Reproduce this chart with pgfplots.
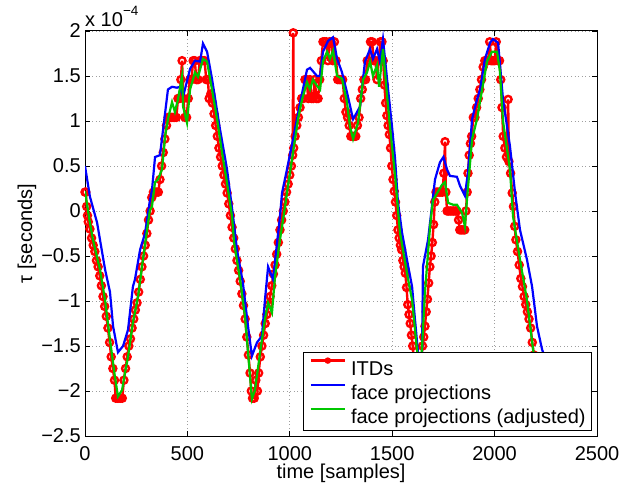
\documentclass[border=0pt]{standalone}
\usepackage{pgfplots}
\pgfplotsset{compat=1.18}
\usepackage{fontspec}
\setmainfont{Liberation Sans}
\definecolor{mred}{rgb}{1,0,0}
\definecolor{mblue}{rgb}{0,0,1}
\definecolor{mgreen}{rgb}{0,0.78,0}
\newcommand{\fs}{\fontsize{20}{24}\selectfont}
\begin{document}
\begin{tikzpicture}
\useasboundingbox (-85pt,-51pt) rectangle (559pt,436pt);
\begin{axis}[
    scale only axis, width=512pt, height=405pt,
    xmin=0, xmax=2500, ymin=-2.5, ymax=2,
    xtick={0,500,1000,1500,2000,2500},
    ytick={-2.5,-2,-1.5,-1,-0.5,0,0.5,1,1.5,2},
    xticklabels={0,500,1000,1500,2000,2500},
    yticklabels={−2.5,−2,−1.5,−1,−0.5,0,0.5,1,1.5,2},
    tick align=inside, major tick length=5pt,
    tick style={black, line width=0.8pt},
    axis line style={line width=1pt},
    grid=major,
    grid style={gray!75, line width=0.8pt, dash pattern=on 1pt off 2.6pt},
    xticklabel style={font=\fs, inner sep=0pt, yshift=-10pt},
    yticklabel style={font=\fs, inner sep=0pt, xshift=-4pt},
    every axis x label/.style={at={(axis description cs:0.5,-0.106)}, anchor=base},
    every axis y label/.style={at={(axis description cs:-0.1035,0.5)}, rotate=90, anchor=base},
    label style={font=\fs},
    xlabel={time [samples]}, ylabel={τ [seconds]},
    clip mode=individual,
    legend style={at={(axis description cs:1,0)}, anchor=south east, xshift=-5pt, yshift=5pt,
        draw=black, line width=0.8pt, fill=white, font=\fs,
        inner xsep=6pt, inner ysep=3pt, row sep=0pt, column sep=5pt,
        nodes={inner sep=0pt, text height=20pt, text depth=4pt}},
    legend cell align=left,
    legend image code/.code={\draw[#1, mark size=2.4pt, mark options={line width=1.6pt}, mark repeat=2, mark phase=2] plot coordinates {(0pt,7pt)(17pt,7pt)(34pt,7pt)};},
]

% ITDs
\addplot[color=mred, line width=2.4pt, mark=o, mark size=3.5pt, mark options={line width=2.4pt}] coordinates {
(0,0.21)(4,0.21)(8,0.05)(12,-0.05)(16,-0.12)(24,-0.2)(32,-0.3)(40,-0.38)(48,-0.45)(56,-0.55)
(64,-0.62)(72,-0.72)(80,-0.83)(88,-0.95)(96,-1.06)(104,-1.17)(112,-1.3)(120,-1.46)(128,-1.62)(136,-1.75)
(144,-1.88)(150,-2.08)(158,-2.08)(166,-2.08)(174,-2.08)(182,-2.08)(190,-1.88)(198,-1.75)(206,-1.62)(214,-1.5)
(222,-1.42)(230,-1.3)(238,-1.2)(246,-1.1)(254,-1.02)(262,-0.9)(270,-0.76)(278,-0.62)(286,-0.5)(294,-0.38)
(302,-0.25)(310,-0.1)(318,0)(326,0.15)(334,0.21)(342,0.21)(350,0.21)(358,0.21)(366,0.35)(374,0.5)
(382,0.65)(390,0.8)(398,0.95)(406,1.04)(414,1.04)(422,1.04)(430,1.04)(438,1.04)(446,1.04)(454,1.25)
(462,1.25)(468,1.46)(474,1.67)(480,1.25)(488,1.04)(496,1.04)(504,1.25)(512,1.46)(520,1.46)(528,1.67)
(536,1.67)(544,1.46)(552,1.46)(560,1.67)(568,1.67)(576,1.67)(584,1.67)(592,1.46)(600,1.46)(606,1.25)
(614,1.3)(622,1.2)(630,1.08)(638,0.95)(646,0.83)(654,0.7)(662,0.6)(670,0.5)(678,0.4)(686,0.3)
(694,0.2)(702,0.08)(710,-0.05)(718,-0.18)(726,-0.3)(734,-0.42)(742,-0.55)(750,-0.66)(758,-0.78)(766,-0.92)
(774,-1.05)(782,-1.2)(790,-1.4)(798,-1.6)(806,-1.8)(812,-2.0)(818,-2.08)(826,-2.08)(834,-1.88)(842,-2.0)
(848,-1.8)(856,-1.62)(864,-1.5)(872,-1.38)(880,-1.25)(888,-1.15)(896,-1.04)(904,-0.95)(912,-0.83)(920,-0.7)
(928,-0.6)(936,-0.48)(944,-0.35)(952,-0.21)(960,-0.1)(968,0)(976,0.1)(984,0.21)(992,0.3)(1000,0.4)
(1008,0.5)(1014,0.62)(1017,1.98)(1019,0.7)(1026,0.83)(1034,0.95)(1042,1.04)(1050,1.15)(1058,1.25)(1066,1.25)
(1074,1.46)(1082,1.46)(1090,1.25)(1098,1.46)(1106,1.25)(1114,1.25)(1122,1.46)(1130,1.25)(1138,1.25)(1146,1.46)
(1154,1.67)(1162,1.88)(1170,1.88)(1178,1.88)(1186,1.67)(1194,1.88)(1202,1.88)(1210,1.67)(1218,1.88)(1226,1.67)
(1234,1.46)(1242,1.46)(1250,1.46)(1258,1.46)(1266,1.25)(1274,1.1)(1282,1.04)(1290,0.95)(1298,0.83)(1306,0.83)
(1314,0.83)(1322,0.83)(1330,0.95)(1338,1.04)(1346,1.25)(1354,1.35)(1362,1.46)(1370,1.46)(1378,1.67)(1386,1.67)
(1394,1.88)(1402,1.88)(1410,1.67)(1418,1.67)(1426,1.46)(1434,1.67)(1442,1.88)(1450,1.88)(1456,1.67)(1462,1.4)
(1468,1.2)(1474,1.06)(1480,0.95)(1486,0.85)(1492,0.7)(1498,0.5)(1504,0.35)(1510,0.22)(1516,0.1)(1522,-0.05)
(1528,-0.21)(1534,-0.3)(1540,-0.38)(1546,-0.43)(1552,-0.55)(1558,-0.62)(1564,-0.69)(1570,-0.85)(1576,-1.04)(1582,-1.15)
(1588,-1.25)(1594,-1.38)(1600,-1.5)(1608,-1.7)(1616,-1.9)(1624,-2.0)(1632,-1.9)(1640,-1.7)(1648,-1.5)(1654,-1.4)
(1660,-1.28)(1666,-1.12)(1672,-0.98)(1678,-0.8)(1684,-0.62)(1690,-0.5)(1696,-0.35)(1702,-0.15)(1708,0.1)(1714,0.21)
(1722,0.21)(1730,0.21)(1738,0.21)(1746,0.21)(1752,0.42)(1758,0.77)(1762,0.21)(1768,0)(1776,0)(1784,0)
(1792,0)(1800,0)(1808,0)(1816,0)(1824,-0.1)(1830,-0.21)(1838,-0.21)(1846,-0.21)(1854,-0.21)(1860,0)
(1866,0.21)(1870,0.42)(1876,0.62)(1882,0.75)(1888,0.83)(1896,1.04)(1904,1.04)(1912,1.15)(1920,1.25)(1928,1.35)
(1936,1.46)(1944,1.6)(1952,1.67)(1960,1.67)(1968,1.67)(1976,1.88)(1984,1.67)(1992,1.67)(2000,1.67)(2008,1.88)
(2016,1.67)(2024,1.67)(2030,1.46)(2036,1.15)(2042,0.83)(2050,0.7)(2058,0.6)(2066,1.24)(2070,0.55)(2078,0.42)
(2086,0.2)(2092,0.05)(2098,-0.17)(2104,-0.32)(2112,-0.45)(2120,-0.6)(2128,-0.75)(2136,-0.84)(2144,-0.95)(2152,-1.04)
(2160,-1.12)(2168,-1.2)(2176,-1.3)(2184,-1.46)(2192,-1.6)(2200,-1.75)(2210,-1.9)
};

% face projections
\addplot[color=mblue, line width=2.2pt] coordinates {
(0,0.50)(24,0.16)(59,-0.13)(98,-0.65)(122,-0.90)(137,-1.28)(161,-1.57)(186,-1.50)(210,-1.32)(234,-0.84)
(244,-0.76)(269,-0.43)(293,-0.25)(317,0.12)(327,0.23)(342,0.60)(366,0.62)(381,0.90)(405,1.35)(425,1.38)
(449,1.37)(464,1.38)(479,1.27)(513,1.58)(537,1.67)(562,1.66)(576,1.86)(596,1.77)(620,1.47)(659,0.91)
(693,0.47)(723,-0.06)(742,-0.43)(771,-0.80)(796,-1.28)(815,-1.61)(840,-1.46)(864,-1.39)(879,-0.98)(894,-0.62)
(918,-0.76)(938,-0.35)(952,-0.06)(962,0.20)(986,0.46)(1016,0.80)(1050,1.20)(1084,1.57)(1099,1.59)(1133,1.50)
(1148,1.50)(1162,1.77)(1187,1.89)(1211,1.93)(1231,1.69)(1255,1.54)(1279,1.32)(1309,1.02)(1343,1.16)(1367,1.66)
(1392,1.80)(1406,1.69)(1426,1.80)(1440,1.66)(1455,1.91)(1480,1.35)(1499,0.94)(1514,0.58)(1528,0.10)(1548,-0.24)
(1572,-0.54)(1597,-0.84)(1611,-1.20)(1626,-1.57)(1636,-1.75)(1646,-1.57)(1650,-0.62)(1675,-0.32)(1694,0.05)(1709,0.35)
(1733,0.54)(1750,0.60)(1768,0.46)(1782,0.39)(1816,0.38)(1831,0.28)(1855,0.17)(1870,0.43)(1890,1.02)(1914,1.24)
(1929,1.35)(1953,1.69)(1978,1.87)(1992,1.91)(2017,1.87)(2041,1.24)(2075,0.72)(2100,0.20)(2124,-0.21)(2158,-0.54)
(2183,-0.84)(2207,-1.28)(2232,-1.54)(2256,-1.70)(2290,-2.00)
};

% face projections (adjusted)
\addplot[color=mgreen, line width=2.2pt] coordinates {
(0,0.22)(24,-0.13)(39,-0.32)(73,-0.65)(98,-0.99)(122,-1.43)(146,-1.84)(161,-2.06)(181,-1.99)(195,-1.80)
(210,-1.62)(234,-1.24)(259,-0.95)(283,-0.54)(303,-0.21)(317,0.01)(327,0.05)(342,0.32)(356,0.35)(376,0.46)
(391,0.83)(405,1.02)(425,1.21)(439,1.10)(454,1.24)(474,1.50)(479,1.16)(498,0.98)(513,1.35)(537,1.54)
(552,1.49)(576,1.69)(596,1.66)(620,1.35)(645,1.02)(669,0.65)(693,0.32)(718,-0.06)(728,-0.35)(757,-0.76)
(781,-1.17)(796,-1.57)(815,-2.09)(830,-1.99)(855,-1.57)(879,-1.20)(894,-1.02)(913,-1.13)(928,-0.73)(952,-0.32)
(977,0.05)(991,0.28)(1016,0.65)(1040,1.02)(1060,1.24)(1084,1.43)(1099,1.35)(1113,1.46)(1133,1.39)(1148,1.35)
(1162,1.66)(1182,1.77)(1196,1.69)(1211,1.78)(1231,1.50)(1255,1.47)(1279,1.21)(1294,0.94)(1309,0.80)(1333,0.98)
(1358,1.46)(1377,1.54)(1392,1.66)(1406,1.50)(1426,1.62)(1436,1.38)(1455,1.80)(1475,1.28)(1489,0.94)(1514,0.39)
(1538,-0.24)(1572,-0.69)(1597,-0.99)(1621,-1.54)(1636,-1.80)(1646,-1.50)(1660,-0.90)(1685,-0.17)(1699,0.12)(1743,0.29)
(1758,0.32)(1773,0.09)(1797,0.07)(1816,0.07)(1841,-0.02)(1855,-0.17)(1865,0.12)(1890,0.80)(1914,1.02)(1939,1.35)
(1963,1.66)(1987,1.77)(2012,1.77)(2026,1.55)(2041,1.00)(2075,0.46)(2090,-0.06)(2124,-0.54)(2158,-0.99)(2188,-1.54)
(2222,-2.00)
};
\legend{ITDs, face projections, face projections (adjusted)}

\node[anchor=base west, inner sep=0pt, font=\fs, yshift=4pt] at (rel axis cs:0,1)
    {x 10\raisebox{11pt}{\fontsize{13.5}{14}\selectfont −4}};
\end{axis}
\end{tikzpicture}
\end{document}
